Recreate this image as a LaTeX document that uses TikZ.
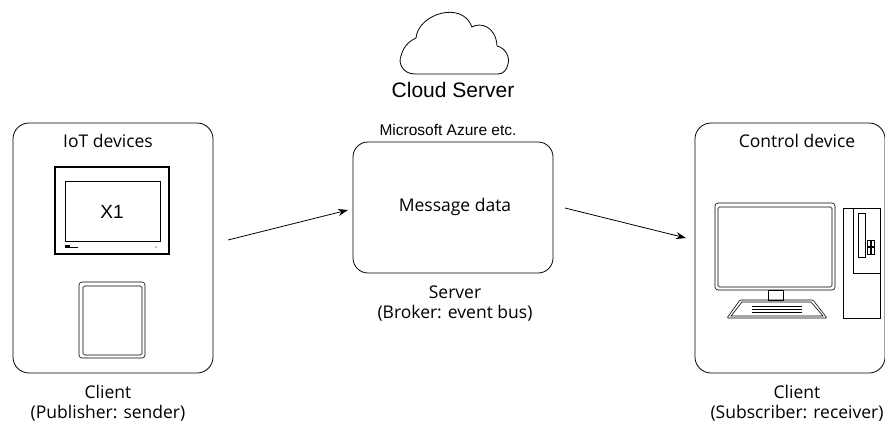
\documentclass[tikz,border=0pt]{standalone}
\usepackage{fontspec}
\setmainfont{Open Sans}
\newfontfamily\arial{Liberation Sans}
\usetikzlibrary{arrows.meta}

\tikzset{
  group/.style={draw, rounded corners=16pt, line width=0.8pt, minimum width=200pt, minimum height=250pt},
  lbl/.style={font=\fontsize{17.5}{20}\selectfont, inner sep=0pt},
  flow/.style={-{Stealth[length=10pt,width=7pt]}, line width=0.8pt}
}

\begin{document}
\begin{tikzpicture}[x=1pt,y=-1pt]
\useasboundingbox (0,0) rectangle (885,421);

% publisher side
\node[group] (pub) at (113,248) {};
\node[lbl] (pubtitle) at (108,141) {IoT devices};
\node[lbl] (pubrole) at (108,392) {Client};
\node[lbl] (pubrole2) at (108,413) {(Publisher: sender)};

 \begin{scope}[line width=0.6pt]
  % panel
  \draw[line width=1.8pt] (55,167) rectangle (169,254);
  \draw (65,181) rectangle (160,241);
  \node[font=\arial\fontsize{19}{21}\selectfont] (hmi) at (112,212) {X1};
  \fill (65,245) rectangle (70,248);
  \draw[line width=0.4pt] (70,247.5) -- (78,247.5);
  \fill (156,247) circle (0.6pt);
  % tablet
  \draw[rounded corners=3pt] (79,282) rectangle (145,358);
  \draw[rounded corners=1.5pt] (83,286) rectangle (142,355);
 \end{scope}

% broker
\draw[line width=0.8pt] (415,74) .. controls (402,74) and (398,62) .. (401,56)
   .. controls (404,44) and (412,40) .. (416,38)
   .. controls (418,14) and (462,0) .. (472,27)
   .. controls (480,22) and (496,26) .. (497,46)
   .. controls (506,48) and (510,58) .. (508,64)
   .. controls (507,70) and (503,74) .. (498,74) -- cycle;
\node[font=\arial\fontsize{21}{23}\selectfont] (cloud) at (453,90) {Cloud Server};
\node[font=\arial\fontsize{15.5}{17}\selectfont] (azure) at (448,130) {Microsoft Azure etc.};
\node[group, minimum height=131pt, rounded corners=15pt] (broker) at (453,207.5) {};
\node[lbl] (msg) at (455,207) {Message data};
\node[lbl] (brkrole) at (455,292) {Server};
\node[lbl] (brkrole2) at (455,313) {(Broker: event bus)};

% subscriber side
\node[group, minimum width=190pt] (sub) at (790,248) {};
\node[lbl] (subtitle) at (797,141) {Control device};
\node[lbl] (subrole) at (797,392) {Client};
\node[lbl] (subrole2) at (797,413) {(Subscriber: receiver)};

 \begin{scope}[line width=0.6pt]
  % monitor
  \draw[rounded corners=3pt] (715,203) rectangle (835,290);
  \draw[rounded corners=1.5pt] (718,207) rectangle (832,287);
  \draw (768,290) rectangle (783,300);
  % keyboard
  \draw[rounded corners=1pt] (740,300) -- (813,300) -- (827,318) -- (727,318) -- cycle;
  \draw (742,302) -- (811,302) -- (823,316) -- (731,316) -- cycle;
  \foreach \y in {306,309,312}
    \draw[line width=0.4pt] (752,\y) -- (802,\y);
  % tower
  \draw (843,208) rectangle (880,318);
  \draw (853,208) -- (853,273) -- (880,273);
  \draw (858,213) rectangle (865,257);
  \foreach \i in {0,1}
   \foreach \j in {0,1}
    \draw[line width=0.4pt] (867+4*\i,240+7.5*\j) rectangle (870.5+4*\i,246.5+7.5*\j);
 \end{scope}

% message flow
\coordinate (out1) at (228,240);
\coordinate (in1) at (348,210);
\coordinate (out2) at (565,208);
\coordinate (in2) at (686,238);
\draw[flow] (out1) -- (in1);
\draw[flow] (out2) -- (in2);

\end{tikzpicture}
\end{document}
